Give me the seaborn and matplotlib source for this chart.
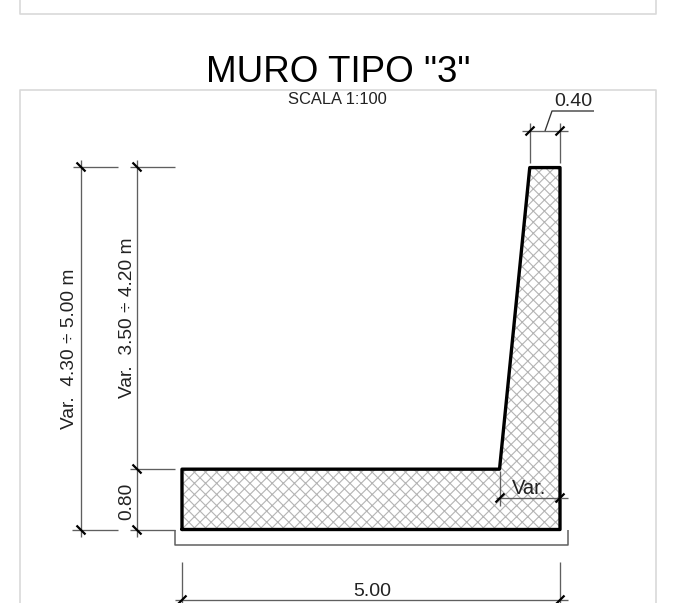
"""
Muro tipo 3: wall section drawing, redrawn with seaborn line marks.
"""
import matplotlib
matplotlib.use("Agg")
import matplotlib.pyplot as plt
import seaborn as sns

# wall section in metres, measured from the lower left corner
wall_x = [0.00, 5.00, 5.00, 4.60, 4.20, 0.00, 0.00]
wall_y = [0.00, 0.00, 4.80, 4.80, 0.80, 0.80, 0.00]

title_text = 'MURO TIPO "3"'
scale_text = "SCALA 1:100"
top_width_label = "0.40"
base_width_label = "5.00"
stem_width_label = "Var."
total_height_label = "Var.  4.30 ÷ 5.00 m"
stem_height_label = "Var.  3.50 ÷ 4.20 m"
base_height_label = "0.80"

# origin of the section and drawing scale on the sheet, in pixels
W, H = 673, 603
X0, Y0, SX, SY = 182, 529.5, 75.6, 75.4
DPI = 100
GREY = "#5f5f5f"
FRAME = "#d9d9d9"


def px(x, y):
    return (x - X0) / SX, (Y0 - y) / SY


def draw(ax, points, color=GREY, lw=0.95):
    xs, ys = zip(*[px(*p) for p in points])
    sns.lineplot(x=list(xs), y=list(ys), sort=False, estimator=None, color=color,
                 linewidth=lw, legend=False, ax=ax, solid_capstyle="butt")


def tick(ax, x, y, slope=-1):
    # architectural slash on a dimension line
    draw(ax, [(x - 4.5, y - 4.5 * slope), (x + 4.5, y + 4.5 * slope)], color="black", lw=1.6)


def label(ax, x, y, text, size, rotation=0, color="#222222"):
    lx, ly = px(x, y)
    ax.text(lx, ly, text, fontsize=size, rotation=rotation, color=color,
            ha="center", va="center")


sns.set_theme(style="white")
plt.rcParams["font.family"] = ["Liberation Sans", "DejaVu Sans"]
plt.rcParams["hatch.linewidth"] = 0.8

fig = plt.figure(figsize=(W / DPI, H / DPI), dpi=DPI)
ax = fig.add_axes([0, 0, 1, 1])
ax.set_xlim(-X0 / SX, (W - X0) / SX)
ax.set_ylim((Y0 - H) / SY, Y0 / SY)
ax.axis("off")

# sheet frames
draw(ax, [(20, 0), (20, 14), (656, 14), (656, 0)], color=FRAME, lw=1.2)
draw(ax, [(20, 603), (20, 90), (656, 90), (656, 603)], color=FRAME, lw=1.2)

# hatched wall and its outline
ax.fill(wall_x, wall_y, facecolor="white", edgecolor="#b4b4b4", hatch="xxx", linewidth=0)
sns.lineplot(x=wall_x, y=wall_y, sort=False, estimator=None, color="black",
             linewidth=2.4, legend=False, ax=ax)

# footing
draw(ax, [(175, 530), (175, 545), (568, 545), (568, 530)], lw=1.1)

# left dimensions
draw(ax, [(81, 160), (81, 537)])
draw(ax, [(73, 167), (118, 167)])
draw(ax, [(72, 530), (118, 530)])
draw(ax, [(137, 160), (137, 537)])
draw(ax, [(130, 167), (175, 167)])
draw(ax, [(130, 469), (175, 469)])
draw(ax, [(130, 530), (175, 530)])
for x, y in [(81, 167), (81, 530), (137, 167), (137, 469), (137, 530)]:
    tick(ax, x, y, slope=1)

# top width
draw(ax, [(530, 123), (530, 163)])
draw(ax, [(560, 123), (560, 163)])
draw(ax, [(522, 131), (568, 131)])
draw(ax, [(545, 131), (552, 111), (594, 111)], color="#333333")
tick(ax, 530, 131)
tick(ax, 560, 131)

# stem width
draw(ax, [(500, 471), (500, 506)])
draw(ax, [(496, 498), (568, 498)])
tick(ax, 500, 498)
tick(ax, 560, 498)

# base width
draw(ax, [(182, 562), (182, 603)])
draw(ax, [(560, 562), (560, 603)])
draw(ax, [(175, 600), (568, 600)])
tick(ax, 182, 600)
tick(ax, 560, 600)

label(ax, 338, 72, title_text, 26.5, color="black")
label(ax, 337, 99, scale_text, 11.9)
label(ax, 573, 102, top_width_label, 14)
label(ax, 529, 489, stem_width_label, 14.5)
label(ax, 372, 592, base_width_label, 14)
label(ax, 70, 349, total_height_label, 13.8, rotation=90)
label(ax, 127, 318, stem_height_label, 13.8, rotation=90)
label(ax, 127, 501, base_height_label, 13.8, rotation=90)

fig.savefig("out.png", dpi=DPI)
